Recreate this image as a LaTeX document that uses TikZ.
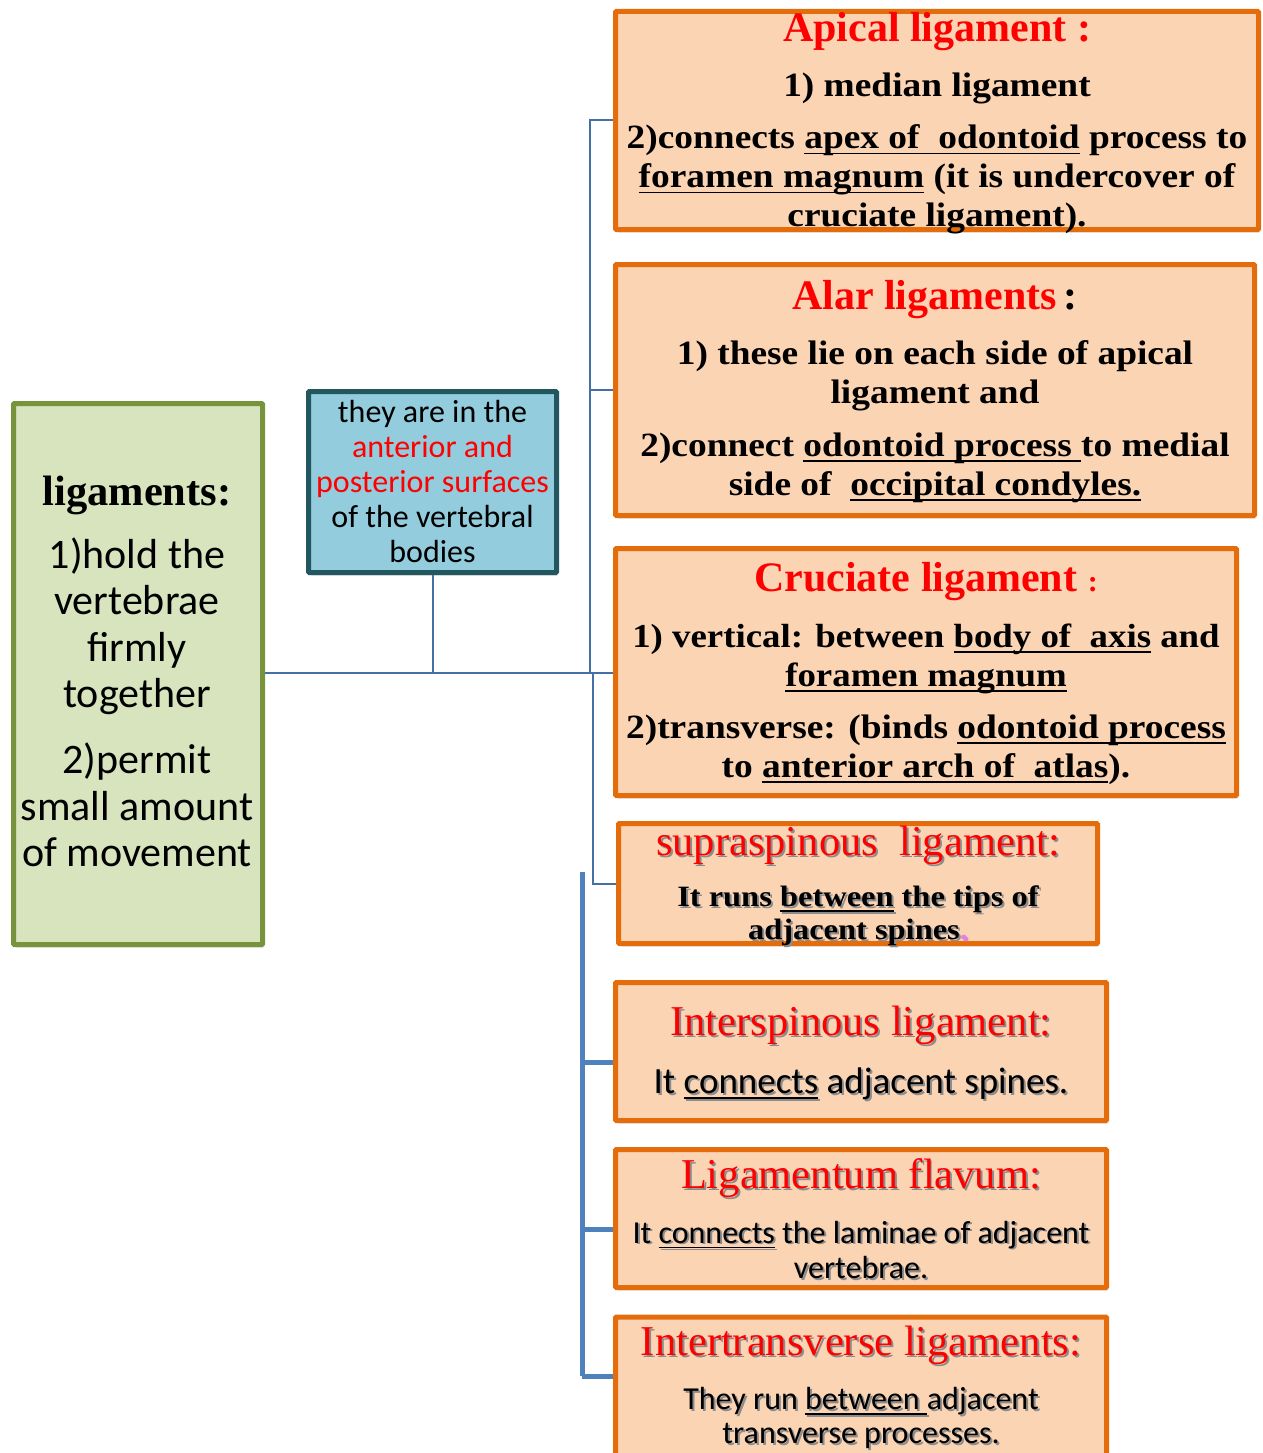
\documentclass[tikz,border=0pt]{standalone}
\usepackage{fontspec}
\setmainfont{Liberation Serif}
\newfontfamily\calfont{Carlito}
\newfontfamily\cambfont{Liberation Serif}[FakeStretch=1.1]
\usetikzlibrary{shadows}
\newcommand\myul[1]{\setbox0\hbox{#1}\rlap{\rule[-0.17em]{\wd0}{0.055em}}\box0\relax}
\newcommand\shd[1]{\leavevmode\rlap{\kern2pt\raisebox{-2pt}{\color{black!45}#1}}#1}
\definecolor{obord}{HTML}{E46C0A}
\definecolor{ofill}{HTML}{FBD4B4}
\definecolor{gbord}{HTML}{77933C}
\definecolor{gfill}{HTML}{D7E4BD}
\definecolor{bbord}{HTML}{23575F}
\definecolor{bfill}{HTML}{93CDDD}
\definecolor{cthin}{HTML}{4470A6}
\definecolor{cthick}{HTML}{4F81BD}
\definecolor{pinkdot}{HTML}{E080E0}
\begin{document}
\begin{tikzpicture}[x=1pt,y=-1pt,
  boxbase/.style={draw, line width=5pt, inner sep=0pt, rounded corners=1pt,
    drop shadow={opacity=0.25, shadow xshift=2pt, shadow yshift=-3pt}},
  obox/.style={boxbase, draw=obord, fill=ofill},
  ttl/.style={text=red, font=\fontsize{42}{46}\selectfont\bfseries, inner sep=0pt},
  ttlr/.style={text=red, font=\fontsize{42.5}{46}\selectfont, inner sep=0pt},
  bdy/.style={align=center, font=\cambfont\fontsize{34}{39}\selectfont\bfseries, inner sep=0pt},
  cbdy/.style={align=center, inner sep=0pt},
  thinline/.style={draw=cthin, line width=2pt},
  thickline/.style={draw=cthick, line width=5pt}
]
\useasboundingbox (0,0) rectangle (1263,1453);
\clip (0,0) rectangle (1263,1453);

% boxes
\node[boxbase, draw=gbord, fill=gfill, minimum width=249pt, minimum height=541pt] (green) at (138,674) {};
\node[boxbase, draw=bbord, fill=bfill, minimum width=248pt, minimum height=181pt] (blue) at (432.5,482) {};
\node[obox, minimum width=643pt, minimum height=218pt] (apical) at (937,120.5) {};
\node[obox, minimum width=639pt, minimum height=251pt] (alar) at (935,390) {};
\node[obox, minimum width=621pt, minimum height=247pt] (cruc) at (926,672) {};
\node[obox, minimum width=479pt, minimum height=120pt] (supra) at (858,883.5) {};
\node[obox, minimum width=491pt, minimum height=138pt] (inter) at (861,1051.5) {};
\node[obox, minimum width=491pt, minimum height=138pt] (flav) at (861,1218.5) {};
\node[obox, minimum width=491pt, minimum height=146pt] (trans) at (861,1390) {};

% connectors
\coordinate (j1) at (590,673);
\coordinate (j2) at (593,673);
\draw[thinline] (green.east |- j1) -- (j1);
\draw[thinline] (blue.south) -- (blue.south |- j1);
\draw[thinline] (j1) |- (apical.west);
\draw[thinline] (j1) |- (alar.west);
\draw[thinline] (j1) -- (cruc.west |- j1);
\draw[thinline] (j2) |- (supra.west);
\coordinate (b1) at (582,872);
\coordinate (b2) at (582,1376);
\coordinate (bi) at ([yshift=-10.5pt]inter.west);
\coordinate (bf) at ([yshift=-10.5pt]flav.west);
\draw[thickline] (b1) -- (b2);
\draw[thickline] (b1 |- bi) -- (bi);
\draw[thickline] (b1 |- bf) -- (bf);
\draw[thickline] (b2) -- (trans.west |- b2);

% green text
\node[font=\fontsize{42.5}{46}\selectfont\bfseries, inner sep=0pt] (gt) at (137,495) {ligaments:};
\node[cbdy, font=\calfont\fontsize{42}{46.5}\selectfont] (g1) at (137,626) {1)hold the\\vertebrae\\firmly\\together};
\node[cbdy, font=\calfont\fontsize{42}{46.5}\selectfont] (g2) at (137,805) {2)permit\\small amount\\of movement};

% blue text
\node[cbdy, font=\calfont\fontsize{32}{35}\selectfont] (bt) at (432.5,482) {they are in the\\\textcolor{red}{anterior and}\\\textcolor{red}{posterior surfaces}\\of the vertebral\\bodies};

% apical
\node[ttl] (apt) at (937,31.5) {Apical ligament :};
\node[bdy] (ap1) at (937,88.5) {1) median ligament};
\node[bdy] (ap2) at (937,179.5) {2)connects \myul{apex of\ \ odontoid} process to\\\myul{foramen magnum} (it is undercover of\\cruciate ligament).};

% alar
\node[ttl] (alt) at (935,299.5) {Alar ligaments\textcolor{black}{\,:}};
\node[bdy] (al1) at (935,375.5) {1) these lie on each side of apical\\ligament and};
\node[bdy] (al2) at (935,467.5) {2)connect \myul{odontoid process }to medial\\side of\ \ \myul{occipital condyles.}};

% cruciate
\node[ttl] (crt) at (926,581.5) {Cruciate ligament {\fontsize{30}{30}\selectfont:}};
\node[bdy, font=\cambfont\fontsize{33.5}{39}\selectfont\bfseries] (cr1) at (926,658.5) {1) vertical: between \myul{body of\ \ axis} and\\\myul{foramen magnum}};
\node[bdy] (cr2) at (926,749.5) {2)transverse: (binds \myul{odontoid process}\\to \myul{anterior arch of\ \ atlas}).};

% supraspinous
\node[ttlr] (sut) at (858,846) {\shd{supraspinous\ \ ligament:}};
\node[bdy, font=\cambfont\fontsize{29.5}{33}\selectfont\bfseries] (su1) at (858,917) {\shd{It runs \myul{between} the tips of}\\\shd{adjacent spines\textcolor{pinkdot}{.}}};

% interspinous
\node[ttlr] (int) at (861,1026) {\shd{Interspinous ligament:}};
\node[cbdy, font=\calfont\fontsize{37}{38}\selectfont] (in1) at (861,1084.5) {\shd{It \myul{connects} adjacent spines.}};

% flavum
\node[ttlr] (flt) at (861,1179) {\shd{Ligamentum flavum:}};
\node[cbdy, font=\calfont\fontsize{32}{35}\selectfont] (fl1) at (861,1250.5) {\shd{It \myul{connects} the laminae of adjacent}\\\shd{vertebrae.}};

% intertransverse
\node[ttlr] (trt) at (861,1346) {\shd{Intertransverse ligaments:}};
\node[cbdy, font=\calfont\fontsize{32}{34}\selectfont] (tr1) at (861,1419) {\shd{They run \myul{between }adjacent}\\\shd{transverse processes.}};
\end{tikzpicture}
\end{document}
